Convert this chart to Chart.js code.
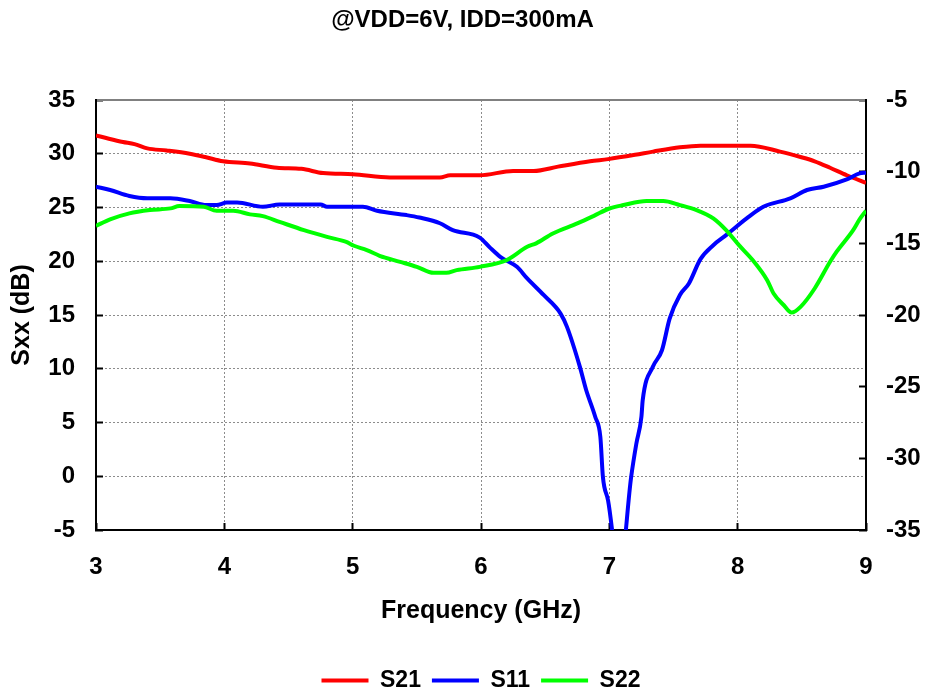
<!DOCTYPE html>
<html>
<head>
<meta charset="utf-8">
<script src="https://cdn.jsdelivr.net/npm/chart.js@4"></script>
<style>
    body { margin: 0; background: #fff; }
</style>
</head>
<body>
<canvas id="canvasSxx" width="925" height="692"></canvas>
<script>
// S21 gain (left axis, dB)
var s21Freq = [3.0, 3.1, 3.21, 3.3, 3.4, 3.55, 3.73, 3.85, 3.99, 4.2, 4.41, 4.6, 4.77, 5.0, 5.29, 5.68, 5.76, 5.99,
    6.25, 6.41, 6.6, 6.85, 6.99, 7.2, 7.34, 7.55, 7.71, 7.9, 8.1, 8.33, 8.49, 8.6, 8.72, 8.85, 9.0];
var s21Val = [31.7, 31.4, 31.1, 30.9, 30.5, 30.3, 30.0, 29.7, 29.3, 29.1, 28.7, 28.6, 28.2, 28.1, 27.8, 27.8, 28.0, 28.0,
    28.4, 28.4, 28.8, 29.3, 29.5, 29.9, 30.2, 30.6, 30.75, 30.75, 30.75, 30.2, 29.7, 29.3, 28.7, 28.0, 27.3];

// S11 input return loss (right axis, dB)
var s11Freq = [3.0, 3.11, 3.26, 3.4, 3.58, 3.73, 3.86, 3.94, 4.02, 4.1, 4.3, 4.43, 4.75, 4.8, 5.08, 5.19, 5.42, 5.52,
    5.68, 5.78, 5.99, 6.07, 6.15, 6.28, 6.36, 6.49, 6.62, 6.67, 6.77, 6.82, 6.89, 6.93, 6.95, 6.99, 7.08,
    7.17, 7.21, 7.25, 7.26, 7.34, 7.41, 7.47, 7.55, 7.62, 7.71, 7.81, 7.91, 8.07, 8.2, 8.41, 8.54, 8.67, 8.85, 8.95, 9.0];
var s11Val = [-11.05, -11.28, -11.7, -11.86, -11.86, -12.05, -12.33, -12.33, -12.15, -12.15, -12.45, -12.29, -12.29, -12.45, -12.45, -12.73, -13.03, -13.2,
    -13.6, -14.08, -14.6, -15.3, -15.94, -16.64, -17.45, -18.62, -19.9, -20.83, -23.6, -25.25, -27.1, -28.5, -31.3, -32.93, -38,
    -31.3, -29.0, -27.1, -25.95, -23.6, -22.46, -20.25, -18.6, -17.8, -16.1, -15.13, -14.43, -13.26, -12.45, -11.86, -11.28, -11.05, -10.54, -10.12, -10.07];

// S22 output return loss (right axis, dB)
var s22Freq = [3.0, 3.11, 3.26, 3.42, 3.58, 3.65, 3.84, 3.94, 4.07, 4.2, 4.3, 4.43, 4.62, 4.8, 4.95, 5.01, 5.11, 5.21,
    5.37, 5.5, 5.63, 5.73, 5.81, 5.99, 6.2, 6.36, 6.43, 6.56, 6.75, 6.88, 7.0, 7.11, 7.29, 7.42, 7.55, 7.68,
    7.81, 7.91, 8.01, 8.12, 8.23, 8.28, 8.36, 8.42, 8.49, 8.6, 8.72, 8.77, 8.9, 8.95, 9.0];
var s22Val = [-13.78, -13.33, -12.91, -12.68, -12.56, -12.4, -12.45, -12.73, -12.73, -12.98, -13.1, -13.5, -14.08, -14.55, -14.9, -15.17, -15.47, -15.87,
    -16.29, -16.64, -17.06, -17.06, -16.87, -16.64, -16.17, -15.24, -15.0, -14.31, -13.61, -13.08, -12.57, -12.33, -12.05, -12.05, -12.33, -12.68,
    -13.26, -14.08, -15.13, -16.2, -17.57, -18.5, -19.32, -19.83, -19.43, -18.15, -16.29, -15.6, -14.08, -13.33, -12.73];

var GRID = '#8c8c8c';
var NONE = 'rgba(0,0,0,0)';

Chart.defaults.font.family = '"Liberation Sans", Arial, sans-serif';
Chart.defaults.font.weight = 'bold';
Chart.defaults.color = '#000';

function pairs(xs, ys) {
    return xs.map(function (x, i) { return { x: x, y: ys[i] }; });
}

function series(label, xs, ys, color, axis, order) {
    return {
        label: label,
        data: pairs(xs, ys),
        yAxisID: axis,
        borderColor: color,
        backgroundColor: color,
        borderWidth: 4,
        pointRadius: 0,
        cubicInterpolationMode: 'monotone',
        order: order
    };
}

var config = {
    type: 'line',
    data: {
        datasets: [
            series('S21', s21Freq, s21Val, '#ff0000', 'y', 3),
            series('S11', s11Freq, s11Val, '#0000ff', 'y1', 2),
            series('S22', s22Freq, s22Val, '#00ff00', 'y1', 1)
        ]
    },
    options: {
        responsive: false,
        animation: false,
        layout: { padding: { bottom: -10 } },
        plugins: {
            title: {
                display: true,
                text: '@VDD=6V, IDD=300mA',
                font: { size: 24, weight: 'bold' },
                padding: { top: 6, bottom: 65.2 }
            },
            legend: {
                position: 'bottom',
                fullSize: false,
                labels: {
                    boxWidth: 47,
                    boxHeight: 4,
                    padding: 11,
                    font: { size: 23, weight: 'bold' },
                    sort: function (a, b) { return a.datasetIndex - b.datasetIndex; },
                    generateLabels: function (chart) {
                        return Chart.defaults.plugins.legend.labels.generateLabels(chart).map(function (item) {
                            item.lineWidth = 0;
                            return item;
                        });
                    }
                }
            },
            tooltip: { enabled: false }
        },
        scales: {
            x: {
                type: 'linear',
                position: 'bottom',
                min: 3,
                max: 9,
                ticks: { stepSize: 1, padding: 30, font: { size: 24 } },
                grid: {
                    color: function (c) { return (c.tick && (c.tick.value === 3 || c.tick.value === 9)) ? NONE : GRID; },
                    lineWidth: 1,
                    tickLength: -7,
                    tickColor: '#000',
                    tickWidth: 2,
                    tickBorderDash: []
                },
                border: { color: '#000', width: 2, dash: [2, 2] },
                title: { display: true, text: 'Frequency (GHz)', font: { size: 25 }, padding: { top: 0, bottom: 32 } },
                afterFit: function (s) { s.height = 128; }
            },
            xTop: {
                type: 'linear',
                position: 'top',
                min: 3,
                max: 9,
                ticks: { display: false },
                grid: { display: false },
                border: { color: '#808080', width: 2 },
                afterFit: function (s) { s.height = 0; }
            },
            y: {
                position: 'left',
                min: -5,
                max: 35,
                ticks: { stepSize: 5, padding: 28, font: { size: 24 } },
                grid: {
                    color: function (c) { return (c.tick && (c.tick.value === -5 || c.tick.value === 35)) ? NONE : GRID; },
                    lineWidth: 1,
                    tickLength: -7,
                    tickColor: '#000',
                    tickWidth: 2,
                    tickBorderDash: []
                },
                border: { color: '#000', width: 2, dash: [2, 2] },
                title: { display: true, text: 'Sxx (dB)', font: { size: 25 }, padding: { top: 7, bottom: 0 } },
                afterFit: function (s) { s.width = 96; }
            },
            y1: {
                position: 'right',
                min: -35,
                max: -5,
                ticks: { stepSize: 5, padding: 27, font: { size: 24 } },
                grid: {
                    drawOnChartArea: false,
                    tickLength: -7,
                    tickColor: '#000',
                    tickWidth: 2
                },
                border: { color: '#000', width: 2 },
                afterFit: function (s) { s.width = 59; }
            }
        }
    }
};

var ctx = document.getElementById('canvasSxx').getContext('2d');
var chartSxx = new Chart(ctx, config);
</script>
</body>
</html>
